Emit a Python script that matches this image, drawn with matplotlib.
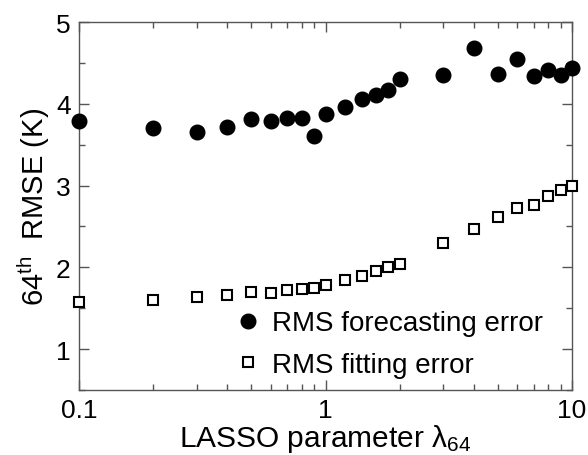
import matplotlib
matplotlib.use("Agg")
import matplotlib.pyplot as plt

plt.rcParams['font.family'] = ['Liberation Sans', 'DejaVu Sans']
plt.rcParams['mathtext.fontset'] = 'custom'
plt.rcParams['mathtext.rm'] = 'Liberation Sans'
plt.rcParams['mathtext.it'] = 'Liberation Sans:italic'

lam = [0.1, 0.2, 0.3, 0.4, 0.5, 0.6, 0.7, 0.8, 0.9, 1.0, 1.2, 1.4, 1.6, 1.8, 2.0,
       3, 4, 5, 6, 7, 8, 9, 10]
forecast_err = [3.79, 3.70, 3.66, 3.72, 3.81, 3.79, 3.83, 3.83, 3.61, 3.88, 3.96, 4.06,
                4.11, 4.17, 4.30, 4.35, 4.68, 4.37, 4.55, 4.34, 4.41, 4.35, 4.44]
fit_err = [1.57, 1.60, 1.64, 1.66, 1.70, 1.69, 1.72, 1.73, 1.75, 1.78, 1.85, 1.90,
           1.95, 2.00, 2.04, 2.30, 2.47, 2.62, 2.72, 2.76, 2.87, 2.94, 2.99]

fig = plt.figure(figsize=(5.88, 4.56), dpi=100)
ax = fig.add_axes([79/588, 65/456, (572-79)/588, (391-23)/456])

ax.plot(lam, forecast_err, 'o', color='black', markersize=10.5, linestyle='none',
        label='RMS forecasting error', clip_on=False, zorder=3)
ax.plot(lam, fit_err, 's', markerfacecolor='white', markeredgecolor='black',
        markeredgewidth=1.5, markersize=7, linestyle='none',
        label='RMS fitting error', clip_on=False, zorder=3)

ax.set_xscale('log')
ax.set_xlim(0.1, 10)
ax.set_ylim(0.5, 5)
ax.set_xticks([0.1, 1, 10])
ax.set_xticklabels(['0.1', '1', '10'])
ax.set_yticks([1, 2, 3, 4, 5])
ax.set_yticks([0.5, 1.5, 2.5, 3.5, 4.5], minor=True)
ax.xaxis.set_minor_formatter(matplotlib.ticker.NullFormatter())

spine_col = '#555555'
for s in ax.spines.values():
    s.set_color(spine_col)
    s.set_linewidth(1.0)
ax.tick_params(which='both', direction='in', top=True, right=True, color=spine_col,
               labelsize=19, width=1.0)
ax.tick_params(which='major', length=7.5, pad=6)
ax.tick_params(which='minor', length=4)

ax.set_xlabel(r'LASSO parameter $\mathrm{\lambda}_{64}$', fontsize=21.5, labelpad=0)
ax.set_ylabel(r'64$^{\rm th}$  RMSE (K)', fontsize=21, labelpad=3)

ax.legend(loc='center left', bbox_to_anchor=(0.32, 0.125), frameon=False, fontsize=20,
          handlelength=0.8, handletextpad=0.47, borderpad=0, labelspacing=0.55,
          borderaxespad=0)

fig.savefig('out.png', dpi=100)
